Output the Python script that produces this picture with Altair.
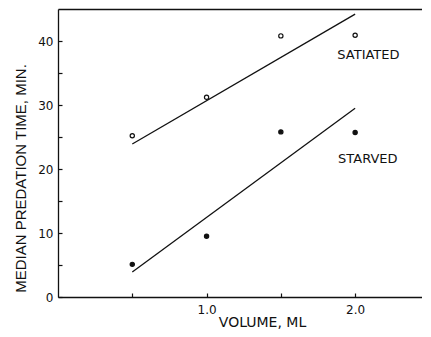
import altair as alt
import pandas as pd

# ---- data ----
volume = [0.5, 1.0, 1.5, 2.0]
satiated = [25.2, 31.2, 40.8, 40.9]
starved = [5.1, 9.5, 25.8, 25.7]

fit_x = [0.5, 2.0]
satiated_fit = [23.9, 44.2]
starved_fit = [3.9, 29.5]

label_text = ["SATIATED", "STARVED"]
label_x = [1.88, 1.885]
label_y = [37.8, 21.6]

x_label_values = [1.0, 2.0]
x_tick_values = [0.5, 1.0, 1.5, 2.0]
y_label_values = [0, 10, 20, 30, 40]
y_tick_values = [0, 5, 10, 15, 20, 25, 30, 35, 40]

# ---- tables ----
pts = pd.DataFrame({
    "volume": volume * 2,
    "time": satiated + starved,
    "series": ["satiated"] * 4 + ["starved"] * 4,
})
fits = pd.DataFrame({
    "volume": fit_x * 2,
    "time": satiated_fit + starved_fit,
    "series": ["satiated"] * 2 + ["starved"] * 2,
})
labels = pd.DataFrame({"x": label_x, "y": label_y, "text": label_text})

xs = alt.Scale(domain=[0, 2.45], nice=False, zero=False)
ys = alt.Scale(domain=[0, 45], nice=False)

FONT = "DejaVu Sans"
INK = "#111111"

points = alt.Chart(pts).mark_point(
    shape="circle", size=18, strokeWidth=1.2, stroke=INK, opacity=1
).encode(
    x=alt.X("volume:Q", scale=xs, axis=alt.Axis(
        values=x_label_values, format=".1f", ticks=False, grid=False,
        domainColor=INK, domainWidth=1.3, labelFont=FONT, labelFontSize=12,
        labelColor=INK, labelPadding=7,
        title="VOLUME, ML", titleFont=FONT, titleFontSize=14,
        titleFontWeight="normal", titleColor=INK,
        titleX=204, titleY=25, titleBaseline="middle", titleAlign="center")),
    y=alt.Y("time:Q", scale=ys, axis=alt.Axis(
        values=y_label_values, ticks=False, grid=False,
        domainColor=INK, domainWidth=1.3, labelFont=FONT, labelFontSize=12,
        labelColor=INK, labelPadding=5,
        title="MEDIAN PREDATION TIME, MIN.", titleFont="Liberation Sans",
        titleFontSize=15, titleFontWeight="normal", titleColor=INK,
        titleX=-38, titleY=169, titleAngle=-90, titleBaseline="middle",
        titleAlign="center")),
    fill=alt.Fill("series:N", scale=alt.Scale(
        domain=["satiated", "starved"], range=["white", INK]), legend=None),
)

lines = alt.Chart(fits).mark_line(color=INK, strokeWidth=1.3).encode(
    x=alt.X("volume:Q", scale=xs, axis=alt.Axis(
        orient="top", labels=False, ticks=False, grid=False, title=None,
        domainColor=INK, domainWidth=1.3)),
    y=alt.Y("time:Q", scale=ys, axis=None),
    detail="series:N",
)

texts = alt.Chart(labels).mark_text(
    align="left", baseline="middle", font=FONT, fontSize=13, color=INK
).encode(
    x=alt.X("x:Q", scale=xs, axis=alt.Axis(
        orient="bottom", offset=-4, values=x_tick_values, labels=False,
        domain=False, grid=False, title=None, ticks=True, tickSize=4,
        tickColor=INK, tickWidth=1.2)),
    y=alt.Y("y:Q", scale=ys, axis=alt.Axis(
        orient="left", offset=-4, values=y_tick_values, labels=False,
        domain=False, grid=False, title=None, ticks=True, tickSize=4,
        tickColor=INK, tickWidth=1.2)),
    text="text:N",
)

chart = alt.layer(points, lines, texts).resolve_axis(
    x="independent", y="independent"
).properties(
    width=364, height=288,
    autosize=alt.AutoSizeParams(type="none"),
    padding={"left": 50, "top": 1, "right": 0, "bottom": 38},
    background="white",
).configure_view(stroke=None)

chart.save("out.html", embed_options={"renderer": "svg", "actions": False})
